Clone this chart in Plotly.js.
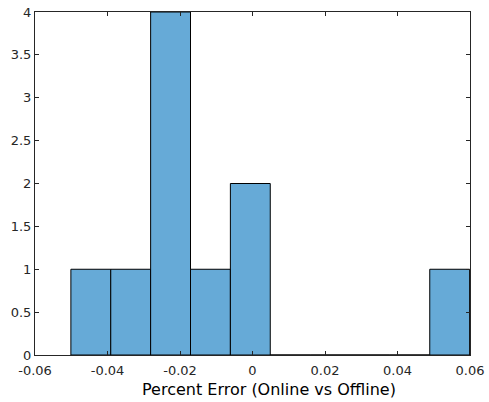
<!DOCTYPE html>
<html>
<head>
<meta charset="utf-8">
<script src="https://cdn.plot.ly/plotly-3.0.1.min.js"></script>
<style>
  html, body { margin: 0; padding: 0; background: #ffffff; }
  #chart { width: 489px; height: 402px; }
</style>
</head>
<body>
<div id="chart"></div>
<script>
// Histogram of percent error between online and offline estimates
const binEdges = [-0.0501, -0.0391, -0.0281, -0.0171, -0.0061, 0.0049, 0.0159, 0.0269, 0.0379, 0.0489, 0.0599];
const binCounts = [1, 1, 4, 1, 2, 0, 0, 0, 0, 1];

const xTickVals = [-0.06, -0.04, -0.02, 0, 0.02, 0.04, 0.06];
const xTickText = ['-0.06', '-0.04', '-0.02', '0', '0.02', '0.04', '0.06'];
const yTickVals = [0, 0.5, 1, 1.5, 2, 2.5, 3, 3.5, 4];
const yTickText = ['0', '0.5', '1', '1.5', '2', '2.5', '3', '3.5', '4'];

const xLabel = 'Percent Error (Online vs Offline)';

const centers = binCounts.map((_, i) => (binEdges[i] + binEdges[i + 1]) / 2);
const widths = binCounts.map((_, i) => binEdges[i + 1] - binEdges[i]);

const axisColor = '#262626';

const trace = {
  type: 'bar',
  x: centers,
  y: binCounts,
  width: widths,
  marker: {
    color: 'rgb(102,170,215)',
    line: { color: '#000000', width: 1 }
  },
  cliponaxis: false,
  hoverinfo: 'x+y'
};

const layout = {
  width: 489,
  height: 402,
  margin: { l: 35, r: 19, t: 12, b: 47, pad: 0 },
  paper_bgcolor: '#ffffff',
  plot_bgcolor: '#ffffff',
  showlegend: false,
  bargap: 0,
  font: { family: 'DejaVu Sans, sans-serif', size: 13, color: axisColor },
  xaxis: {
    range: [-0.06, 0.06],
    tickmode: 'array',
    tickvals: xTickVals,
    ticktext: xTickText,
    ticks: 'inside',
    ticklen: 4,
    tickwidth: 1,
    tickcolor: axisColor,
    ticklabelstandoff: 3,
    showline: true,
    linecolor: axisColor,
    linewidth: 1,
    mirror: 'allticks',
    showgrid: false,
    zeroline: false,
    tickfont: { size: 13, color: axisColor },
    automargin: false
  },
  yaxis: {
    range: [0, 4],
    tickmode: 'array',
    tickvals: yTickVals,
    ticktext: yTickText,
    ticks: 'inside',
    ticklen: 4,
    tickwidth: 1,
    tickcolor: axisColor,
    showline: true,
    linecolor: axisColor,
    linewidth: 1,
    mirror: 'allticks',
    showgrid: false,
    zeroline: false,
    tickfont: { size: 13, color: axisColor },
    automargin: false
  },
  annotations: [{
    text: xLabel,
    xref: 'paper',
    yref: 'paper',
    x: 0.5368,
    y: -0.102,
    xanchor: 'center',
    yanchor: 'middle',
    showarrow: false,
    font: { size: 16, color: '#000000' }
  }]
};

Plotly.newPlot('chart', [trace], layout, { displayModeBar: false, staticPlot: true });
</script>
</body>
</html>
